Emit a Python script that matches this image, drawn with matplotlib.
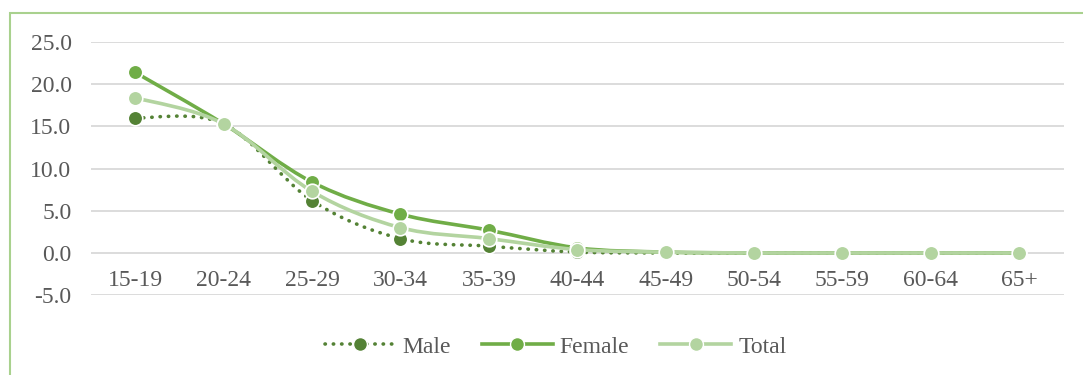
import numpy as np
import matplotlib.pyplot as plt
from matplotlib.path import Path
from matplotlib.patches import PathPatch, Rectangle
from matplotlib.lines import Line2D

plt.rcParams['font.family'] = ['Liberation Serif', 'DejaVu Serif']

ages = ["15-19", "20-24", "25-29", "30-34", "35-39", "40-44",
        "45-49", "50-54", "55-59", "60-64", "65+"]
male = [16.0, 15.3, 6.2, 1.7, 0.8, 0.1, 0.0, 0.0, 0.0, 0.0, 0.0]
female = [21.4, 15.3, 8.4, 4.6, 2.7, 0.6, 0.1, 0.0, 0.0, 0.0, 0.0]
total = [18.4, 15.3, 7.3, 3.0, 1.7, 0.4, 0.1, 0.0, 0.0, 0.0, 0.0]


def smooth_path(xs, ys):
    # catmull-rom -> bezier, like the excel "smoothed line"
    pts = np.column_stack([xs, ys]).astype(float)
    verts = [pts[0]]
    codes = [Path.MOVETO]
    n = len(pts)
    for i in range(n - 1):
        p0 = pts[i - 1] if i > 0 else pts[i]
        p1 = pts[i]
        p2 = pts[i + 1]
        p3 = pts[i + 2] if i + 2 < n else pts[i + 1]
        c1 = p1 + (p2 - p0) / 6.0
        c2 = p2 - (p3 - p1) / 6.0
        verts += [c1, c2, p2]
        codes += [Path.CURVE4] * 3
    return Path(verts, codes)


fig = plt.figure(figsize=(10.83, 3.75), dpi=100)
ax = fig.add_axes([0.084, 0.213, 0.898, 0.675])

x = np.arange(len(ages))
series = [
    ("Male", male, "#548235", (0, (0.1, 2.2))),
    ("Female", female, "#70ad47", "-"),
    ("Total", total, "#b3d4a0", "-"),
]

handles = []
for i, (name, vals, col, ls) in enumerate(series):
    patch = PathPatch(smooth_path(x, vals), facecolor="none", edgecolor=col,
                      lw=2.6, linestyle=ls, capstyle="round", zorder=3 + i)
    ax.add_patch(patch)
    ax.plot(x, vals, linestyle="none", marker="o", markersize=10.5,
            markerfacecolor=col, markeredgecolor="white", markeredgewidth=1.2,
            zorder=3 + i)
    h = Line2D([], [], color=col, lw=2.6, linestyle=ls, dash_capstyle="round",
               marker="o", markersize=10, markerfacecolor=col,
               markeredgecolor="white", markeredgewidth=1)
    handles.append(h)

ax.set_xlim(-0.5, len(ages) - 0.5)
ax.set_ylim(-5, 25)
ax.set_yticks(np.arange(-5, 26, 5))
ax.set_yticklabels([f"{v:.1f}" for v in np.arange(-5, 26, 5)])
ax.yaxis.grid(True, color="#d9d9d9", lw=1.3)
ax.set_axisbelow(True)
ax.set_xticks([])
for s in ax.spines.values():
    s.set_visible(False)
ax.tick_params(axis="y", length=0, labelsize=17, labelcolor="#595959", pad=14)

for xi, lab in zip(x, ages):
    ax.text(xi, -3.3, lab, ha="center", va="center", fontsize=17, color="#595959")

fig.legend(handles=[h for h in handles], labels=[s[0] for s in series],
           loc="center", bbox_to_anchor=(0.513, 0.075), ncol=3, frameon=False,
           fontsize=17, labelcolor="#595959", handlelength=3.0,
           columnspacing=1.3, handletextpad=0.3)

fig.patches.append(Rectangle((10, -20), 1200, 382, transform=None,
                             fill=False, edgecolor="#a9d18e", lw=1.5))

fig.savefig("out.png", dpi=100)
